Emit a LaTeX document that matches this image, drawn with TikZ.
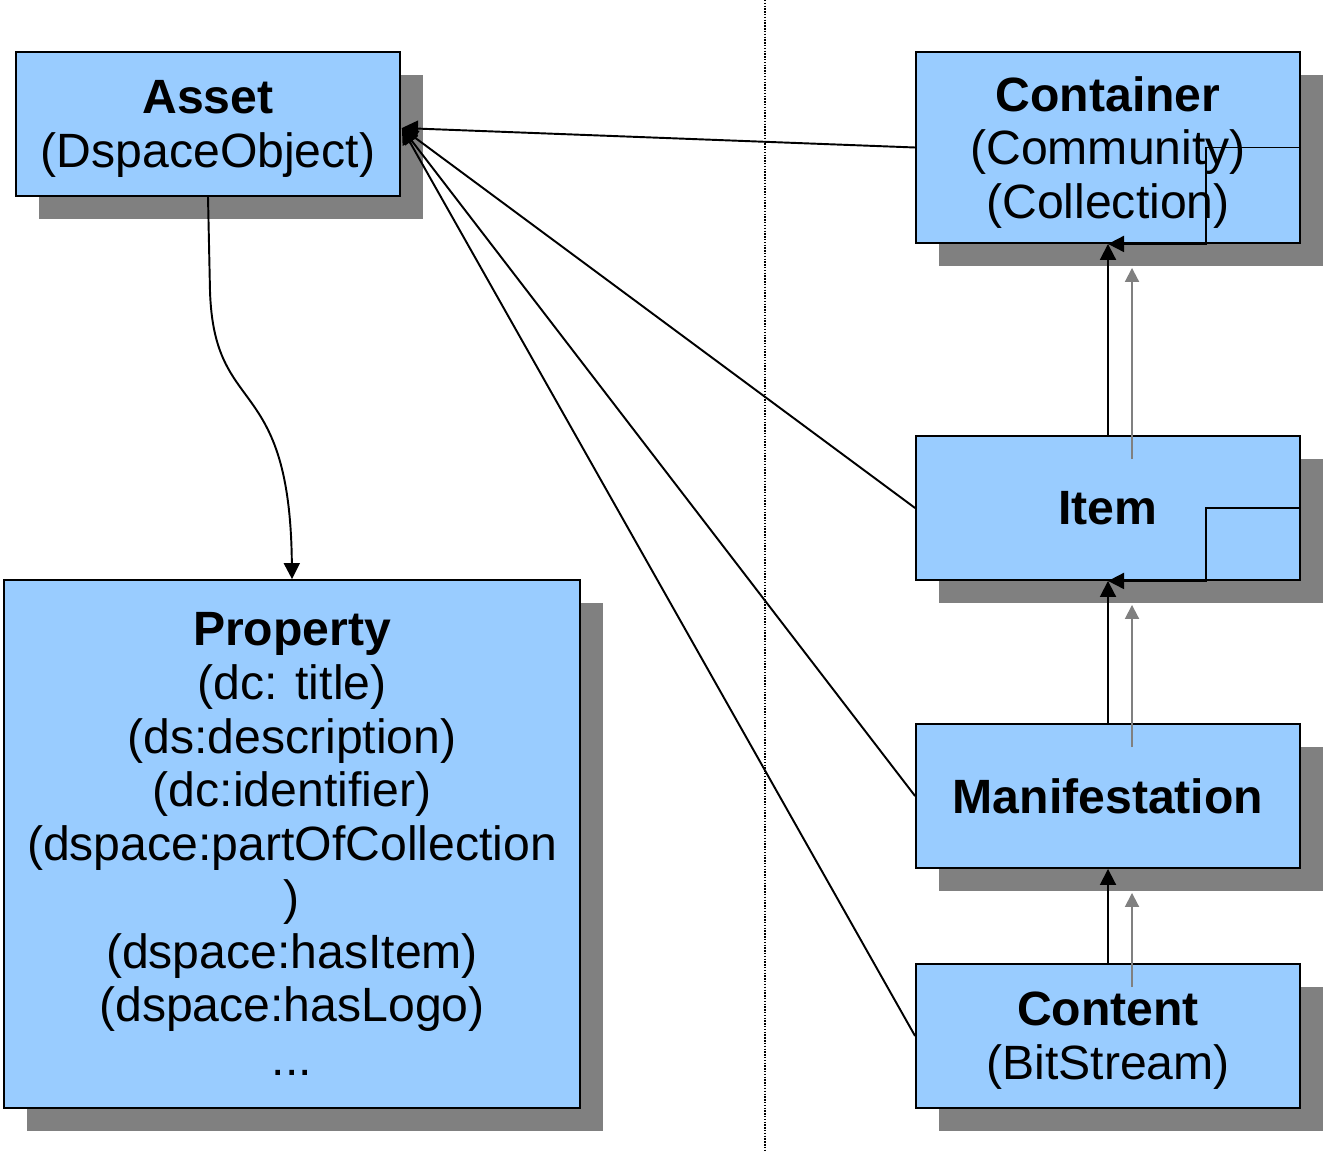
\documentclass[tikz,border=0pt]{standalone}
\usepackage{fontspec}
\setmainfont{Liberation Sans}
\usetikzlibrary{arrows.meta}
\usetikzlibrary{calc}
\usetikzlibrary{shadows}
\usepackage{xcolor}

\definecolor{boxblue}{HTML}{99CCFF}
\definecolor{shadowgray}{HTML}{808080}

\tikzset{
  entity/.style={draw=black, line width=1.1pt, fill=boxblue, align=center,
    inner sep=0pt, minimum width=7.68cm, minimum height=2.88cm, text depth=0pt,
    font=\fontsize{27.4}{30.6}\selectfont,
    drop shadow={shadow xshift=0.46cm, shadow yshift=-0.46cm, opacity=1, fill=shadowgray}},
  link/.style={line width=1.1pt, -{Triangle[length=0.32cm,width=0.32cm]}},
  ghost/.style={line width=1.1pt, shadowgray, -{Triangle[length=0.28cm,width=0.28cm]}}
}

\begin{document}
\begin{tikzpicture}[x=0.02cm,y=-0.02cm]
      \useasboundingbox (0,0) rectangle (1325,1152);

      % Divider
      \draw[line width=1.6pt, dash pattern=on 0.8pt off 0.8pt] (765,0) -- (765,1152);

      % Boxes
      \node[entity] (asset) at (208,124) {\textbf{Asset}\\(DspaceObject)};
      \node[entity, minimum width=11.52cm, minimum height=10.56cm] (property) at (292,844)
        {\textbf{Property}\\(dc: title)\\(ds:description)\\(dc:identifier)\\(dspace:partOfCollection\\)\\(dspace:hasItem)\\(dspace:hasLogo)\\...};
      \node[entity, minimum height=3.82cm] (container) at (1108,147.5) {\textbf{Container}\\(Community)\\(Collection)};
      \node[entity] (item) at (1108,508) {\textbf{Item}};
      \node[entity] (manif) at (1108,796) {\textbf{Manifestation}};
      \node[entity] (content) at (1108,1036) {\textbf{Content}\\(BitStream)};

      % Links to the asset
      \coordinate (assetport) at ($(asset.east)+(1,4)$);
      \foreach \n in {container,item,manif,content}
      {
        \draw[link] (\n.west) -- (assetport);
      }

      % Asset to property
      \draw[link] (asset.south) -- ++(2,94) .. controls (214,420) and (290,370) .. (property.north);

      % Chain
      \draw[link] (item.north) -- (container.south);
      \draw[link] (manif.north) -- (item.south);
      \draw[link] (content.north) -- (manif.south);
      \draw[ghost] ($(item.north)+(24,24)$) -- ($(container.south)+(24,24)$);
      \draw[ghost] ($(manif.north)+(24,24)$) -- ($(item.south)+(24,24)$);
      \draw[ghost] ($(content.north)+(24,24)$) -- ($(manif.south)+(24,24)$);

      % Self loops
      \draw[link] (container.east) -- ++(-95,0) |- (container.south);
      \draw[link] (item.east) -- ++(-95,0) |- (item.south);
\end{tikzpicture}
\end{document}
